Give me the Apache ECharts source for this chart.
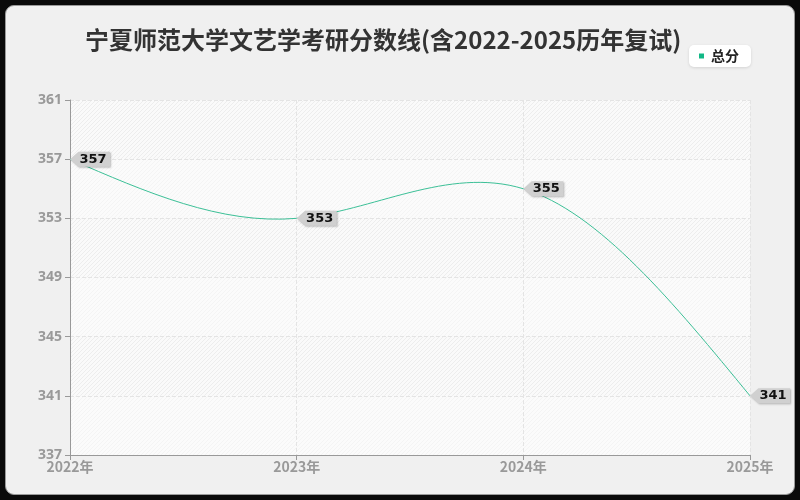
<!DOCTYPE html>
<html><head><meta charset="utf-8">
<script src="https://cdn.jsdelivr.net/npm/echarts@6/dist/echarts.min.js"></script>
<style>
html,body{margin:0;padding:0;background:#0a0a0a;width:800px;height:500px;overflow:hidden}
#frame{position:absolute;left:5px;top:5px;width:788px;height:488px;border:1px solid #9a9a9a;border-radius:9px;background:#f0f0f0}
#main{position:absolute;left:0;top:0;width:800px;height:500px}
</style></head>
<body><div id="frame"></div><div id="main"></div>
<script>
const categories = ['2022年','2023年','2024年','2025年'];
const scores = [357, 353, 355, 341];
const titleText = '宁夏师范大学文艺学考研分数线(含2022-2025历年复试)';
const seriesName = '总分';

// hatch patterns for the plot background bands
function hatch(bg, line) {
  const c = document.createElement('canvas');
  c.width = 4; c.height = 4;
  const x = c.getContext('2d');
  x.fillStyle = bg; x.fillRect(0, 0, 4, 4);
  x.strokeStyle = line; x.lineWidth = 1;
  x.beginPath(); x.moveTo(0, 4); x.lineTo(4, 0); x.moveTo(-2, 2); x.lineTo(2, -2); x.moveTo(2, 6); x.lineTo(6, 2); x.stroke();
  return {image: c, repeat: 'repeat'};
}
const lightBand = hatch('#fbfbfb', '#f4f4f4');
const darkBand = hatch('#fafafa', '#ededed');

// natural cubic spline through pixel points -> bezier path
function splinePath(pts) {
  const n = pts.length;
  if (n < 2) return '';
  const D = [];
  for (let k = 0; k < 2; k++) {
    const a = [], b = [], c = [], r = [];
    for (let i = 0; i < n; i++) {
      if (i === 0) { a[i] = 0; b[i] = 2; c[i] = 1; r[i] = 3 * (pts[1][k] - pts[0][k]); }
      else if (i === n - 1) { a[i] = 1; b[i] = 2; c[i] = 0; r[i] = 3 * (pts[n-1][k] - pts[n-2][k]); }
      else { a[i] = 1; b[i] = 4; c[i] = 1; r[i] = 3 * (pts[i+1][k] - pts[i-1][k]); }
    }
    for (let i = 1; i < n; i++) { const m = a[i] / b[i-1]; b[i] -= m * c[i-1]; r[i] -= m * r[i-1]; }
    const d = new Array(n);
    d[n-1] = r[n-1] / b[n-1];
    for (let i = n - 2; i >= 0; i--) d[i] = (r[i] - c[i] * d[i+1]) / b[i];
    D[k] = d;
  }
  let s = 'M' + pts[0][0] + ',' + pts[0][1];
  for (let i = 0; i < n - 1; i++) {
    const c1 = [pts[i][0] + D[0][i] / 3, pts[i][1] + D[1][i] / 3];
    const c2 = [pts[i+1][0] - D[0][i+1] / 3, pts[i+1][1] - D[1][i+1] / 3];
    s += 'C' + c1[0] + ',' + c1[1] + ' ' + c2[0] + ',' + c2[1] + ' ' + pts[i+1][0] + ',' + pts[i+1][1];
  }
  return s;
}

const chart = echarts.init(document.getElementById('main'));
chart.setOption({
  backgroundColor: 'transparent',
  title: {text: titleText, left: 80, top: 23,
    textStyle: {fontFamily: 'Noto Sans CJK SC', fontSize: 24, fontWeight: 'bold', color: '#333'}},
  legend: {data: [seriesName], right: 49, top: 45, backgroundColor: '#fff', borderRadius: 5,
    padding: [4, 12, 4, 10], itemWidth: 5, itemHeight: 5, icon: 'rect', itemGap: 5,
    shadowColor: 'rgba(0,0,0,0.12)', shadowBlur: 3, shadowOffsetY: 1,
    textStyle: {fontFamily: 'Noto Sans CJK SC', fontSize: 14, fontWeight: 'bold', color: '#222', padding: [0,0,0,2]}},
  grid: {left: 70, right: 50, top: 100, bottom: 45, show: true, borderWidth: 0, backgroundColor: '#fbfbfb'},
  xAxis: {type: 'category', data: categories, boundaryGap: false,
    axisLine: {lineStyle: {color: '#999'}}, axisTick: {show: true, lineStyle: {color: '#999'}},
    axisLabel: {color: '#999', fontSize: 14, fontFamily: 'Noto Sans CJK SC', fontWeight: 'bold', margin: 5},
    splitLine: {show: true, lineStyle: {type: 'dashed', color: '#e4e4e4'}}},
  yAxis: {type: 'value', min: 337, max: 361, interval: 4,
    axisLine: {show: true, lineStyle: {color: '#999'}}, axisTick: {show: true, lineStyle: {color: '#999'}},
    axisLabel: {color: '#999', fontSize: 14, fontFamily: 'Noto Sans', fontWeight: 'bold', margin: 8},
    splitLine: {show: true, lineStyle: {type: 'dashed', color: '#e4e4e4'}},
    splitArea: {show: true, areaStyle: {color: [lightBand, darkBand]}}},
  series: [{
    name: seriesName, type: 'line', data: scores, showSymbol: false, z: 1,
    clip: false, color: '#12b886', lineStyle: {width: 0, opacity: 0},
    markPoint: {
      symbol: 'path://M0,7 L8,0 L38,0 L38,14 L8,14 Z', symbolSize: [40, 15], symbolOffset: [20, 0],
      symbolKeepAspect: false, z: 5,
      itemStyle: {color: '#d0d0d0', shadowColor: 'rgba(0,0,0,0.25)', shadowBlur: 2, shadowOffsetX: 1, shadowOffsetY: 1},
      label: {show: true, position: 'inside', offset: [3, 0], color: '#111', fontSize: 13, fontWeight: 'bold',
        fontFamily: 'DejaVu Sans', formatter: p => p.value},
      data: scores.map((v, i) => ({coord: [i, v], value: v}))
    }
  }, {
    name: seriesName, type: 'custom', z: 2, silent: true,
    data: scores.map((v, i) => [i, v]),
    renderItem: function (params, api) {
      if (params.dataIndex !== 0) return null;
      const pts = scores.map((v, i) => api.coord([i, v]));
      return {type: 'path', shape: {pathData: splinePath(pts)},
        style: {fill: null, stroke: '#3cc097', lineWidth: 1}};
    }
  }]
});
</script></body></html>
